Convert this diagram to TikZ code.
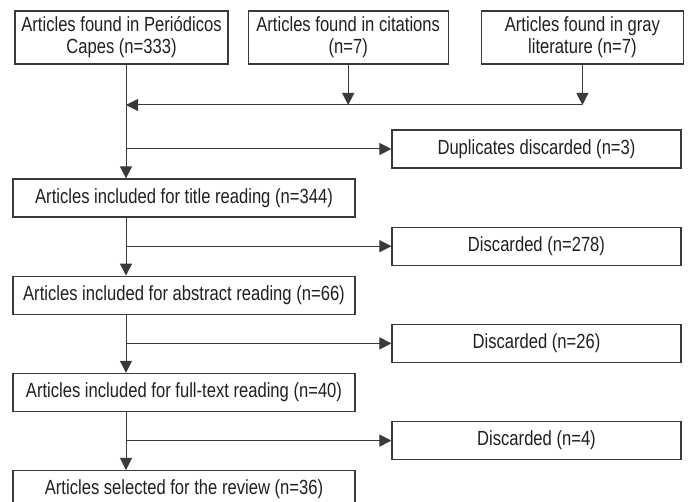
\documentclass[tikz,border=0pt]{standalone}
\usepackage{fontspec}
\setmainfont[FakeStretch=0.81]{Liberation Sans}
\usepackage{tikz}
\usetikzlibrary{positioning,arrows.meta}
\definecolor{linegray}{HTML}{3A3A3A}
\definecolor{textgray}{HTML}{202020}

\begin{document}
\begin{tikzpicture}[x=1pt, y=1pt,
      font=\fontsize{20.5pt}{22pt}\selectfont,
      box/.style={draw=linegray, line width=1.2pt, align=center, text=textgray, minimum width=342pt, minimum height=38pt, inner sep=3pt},
      src/.style={box, minimum height=53pt},
      discbox/.style={box, minimum width=289pt},
      arr/.style={draw=linegray, line width=1pt, -{Triangle[length=12pt,width=12pt]}}]
    \useasboundingbox (0,0) rectangle (690,502);
    % sources
    \node[src, minimum width=213pt] (capes) at (121.5,464.5) {Articles found in Periódicos\\Capes (n=333)};
    \node[src, minimum width=200pt, right=19pt of capes] (cites) {Articles found in citations\\(n=7)};
    \node[src, minimum width=202pt, right=32pt of cites] (grey) {Articles found in gray\\literature (n=7)};
    % main chain
    \node[box] (titleread) at (184,304) {Articles included for title reading (n=344)};
    \node[box, below=58pt of titleread] (abstractread) {Articles included for abstract reading (n=66)};
    \node[box, below=58pt of abstractread] (fullread) {Articles included for full-text reading (n=40)};
    \node[box, below=58pt of fullread] (selected) {Articles selected for the review (n=36)};
    % discarded
    \node[discbox] (dupl) at (536.5,353) {Duplicates discarded (n=3)};
    \node[discbox, below=58pt of dupl] (disc1) {Discarded (n=278)};
    \node[discbox, below=58pt of disc1] (disc2) {Discarded (n=26)};
    \node[discbox, below=58pt of disc2] (disc3) {Discarded (n=4)};
    \coordinate (trunk) at (126,397);
    \draw[arr] (cites.south) -- (cites.south |- trunk);
    \draw[arr] (grey.south) -- (grey.south |- trunk);
    \draw[arr] (grey.south |- trunk) -- (trunk);
    \draw[arr] (capes.south -| trunk) -- (titleread.north -| trunk);
    \draw[arr] (dupl.west -| trunk) -- (dupl.west);
    \draw[arr] (titleread.south -| trunk) -- (abstractread.north -| trunk);
    \draw[arr] (disc1.west -| trunk) -- (disc1.west);
    \draw[arr] (abstractread.south -| trunk) -- (fullread.north -| trunk);
    \draw[arr] (disc2.west -| trunk) -- (disc2.west);
    \draw[arr] (fullread.south -| trunk) -- (selected.north -| trunk);
    \draw[arr] (disc3.west -| trunk) -- (disc3.west);
  \end{tikzpicture}
\end{document}
